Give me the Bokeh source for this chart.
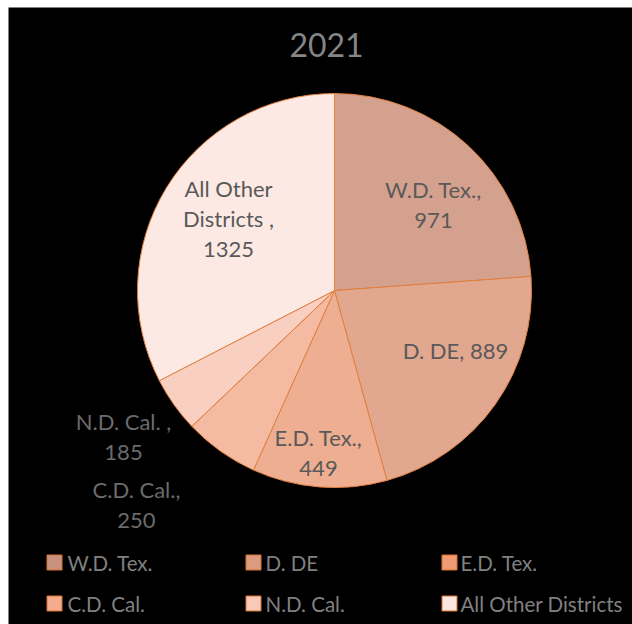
import numpy as np
from bokeh.plotting import figure
from bokeh.models import Range1d, ColumnDataSource
from bokeh.core.properties import value
from bokeh.embed import file_html
from bokeh.resources import INLINE

# ---------------- data ----------------
chart_title = "2021"
districts = ["W.D. Tex.", "D. DE", "E.D. Tex.", "C.D. Cal.", "N.D. Cal.", "All Other Districts"]
cases = [971, 889, 449, 250, 185, 1325]
slice_label_text = ["W.D. Tex.,\n971", "D. DE, 889", "E.D. Tex.,\n449",
                    "C.D. Cal.,\n250", "N.D. Cal. ,\n185", "All Other\nDistricts ,\n1325"]

# ---------------- style ----------------
slice_colors = ["#d4a18f", "#e2a78f", "#eeae92", "#f5baa2", "#f8cfc1", "#fde9e4"]
legend_colors = ["#c9927f", "#dc9a80", "#ef9c74", "#f4ab8e", "#f8c9b9", "#fce6e0"]
label_colors = ["#595959", "#595959", "#595959", "#6b6b6b", "#6b6b6b", "#595959"]
FONT = value("Lato")

# layout (page pixel coordinates; data y = 624 - page y)
W, H = 632, 624
cx, cy_px, R = 334, 290, 197
label_pos_px = [(433, 204), (455, 350), (318, 452), (136, 504), (123, 436), (228, 218)]
legend_swatch_x = [54, 253, 449]
legend_text_x = [67, 265, 460]
legend_row_y_px = [562, 603]

def Y(py):
    return H - py

p = figure(width=W, height=H, output_backend="svg", toolbar_location=None,
           x_range=Range1d(8, W), y_range=Range1d(0, H - 7),
           min_border_left=8, min_border_top=7, min_border_right=0, min_border_bottom=0)
p.axis.visible = False
p.grid.visible = False
p.outline_line_color = None
p.background_fill_color = "black"
p.border_fill_color = "white"

vals = np.array(cases, dtype=float)
frac = vals / vals.sum()
cum = np.concatenate([[0], np.cumsum(frac)])
start = np.pi / 2 - 2 * np.pi * cum[:-1]
end = np.pi / 2 - 2 * np.pi * cum[1:]

src = ColumnDataSource(dict(x=[cx] * len(cases), y=[Y(cy_px)] * len(cases),
                            start=start, end=end, color=slice_colors))
p.wedge(x="x", y="y", radius=R, start_angle="start", end_angle="end",
        direction="clock", fill_color="color", line_color="#e2803f", line_width=1, source=src)

lsrc = ColumnDataSource(dict(x=[q[0] for q in label_pos_px], y=[Y(q[1]) for q in label_pos_px],
                             t=slice_label_text, c=label_colors))
p.text(x="x", y="y", text="t", text_color="c", text_font=FONT, text_font_size="22px",
       text_align="center", text_baseline="middle", text_line_height=1.1, source=lsrc)

# title
p.text(x=[326], y=[Y(44)], text=[chart_title], text_color="#858585", text_font=FONT,
       text_font_size="32px", text_align="center", text_baseline="middle")

# legend
lx, ly, tx = [], [], []
for i in range(len(districts)):
    row, col = divmod(i, 3)
    lx.append(legend_swatch_x[col])
    tx.append(legend_text_x[col])
    ly.append(Y(legend_row_y_px[row]))
p.rect(x=lx, y=ly, width=15, height=15, width_units="screen", height_units="screen",
       fill_color=legend_colors, line_color="#d8702a", line_width=1)
p.text(x=tx, y=ly, text=districts, text_color="#808080", text_font=FONT,
       text_font_size="20.5px", text_align="left", text_baseline="middle")

open("out.html", "w").write(file_html(p, INLINE))
